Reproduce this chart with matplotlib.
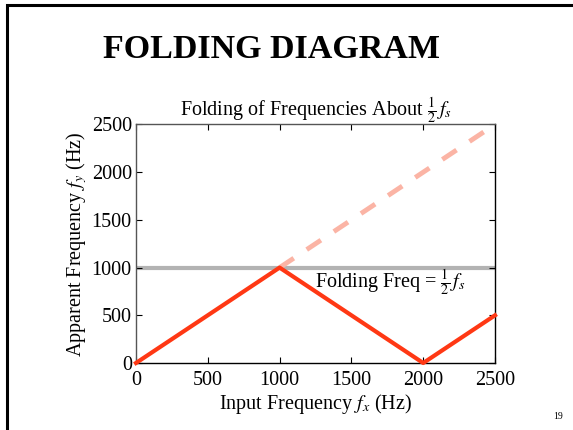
import numpy as np
import matplotlib
matplotlib.use("Agg")
import matplotlib.pyplot as plt
from matplotlib.patches import Rectangle

plt.rcParams["font.family"] = ["Liberation Serif", "DejaVu Serif"]
plt.rcParams["mathtext.fontset"] = "stix"

# input frequency vs. apparent (aliased) frequency, fs = 2000 Hz
fx_alias = [0, 1000, 2000, 2500]
fy_alias = [0, 1000, 0, 500]
fx_true = [1000, 2500]
fy_true = [1000, 2500]
fold_freq = 1000
x_ticks = [0, 500, 1000, 1500, 2000, 2500]
y_ticks = [0, 500, 1000, 1500, 2000, 2500]

fig = plt.figure(figsize=(5.73, 4.30), dpi=100)

# slide frame
fig.add_artist(Rectangle((0.0115, -0.01), 1.02, 0.998, transform=fig.transFigure,
                         fill=False, edgecolor="black", linewidth=2.2))
fig.text(0.473, 0.885, "FOLDING DIAGRAM", ha="center", va="center",
         fontsize=24.5, fontweight="bold")
fig.text(0.983, 0.022, "19", ha="right", va="bottom", fontsize=7)

ax = fig.add_axes([0.2373, 0.1558, 0.6266, 0.5547])
ax.axhline(fold_freq, color="#b3b3b3", linewidth=3, zorder=1)
ax.plot(fx_true, fy_true, color="#fbb4a5", linewidth=3.5,
        dashes=(3.5, 3.2), solid_capstyle="butt", zorder=2)
ax.plot(fx_alias, fy_alias, color="#ff3814", linewidth=3, zorder=3,
        clip_on=False)

ax.text(1250, 840, r"Folding Freq = $\frac{1}{2}\,f_s$", fontsize=14.5,
        ha="left", va="center")

ax.set_xlim(0, 2500)
ax.set_ylim(0, 2500)
ax.set_xticks(x_ticks)
ax.set_yticks(y_ticks)
ax.tick_params(direction="in", length=4, width=0.8, top=True, right=True,
               labelsize=14.5)
ax.tick_params(axis="x", pad=6)
ax.tick_params(axis="y", pad=3)
ax.set_title(r"Folding of Frequencies About $\frac{1}{2}\,f_s$", fontsize=14.5, pad=6)
ax.set_xlabel(r"Input Frequency $f_x$ (Hz)", fontsize=14.5, labelpad=1)
ax.set_ylabel(r"Apparent Frequency $f_y$ (Hz)", fontsize=14.5, labelpad=2)
for side in ["left", "top"]:
    ax.spines[side].set_color("#555555")
for side in ax.spines:
    ax.spines[side].set_linewidth(1.0)

fig.savefig("out.png", dpi=100)
